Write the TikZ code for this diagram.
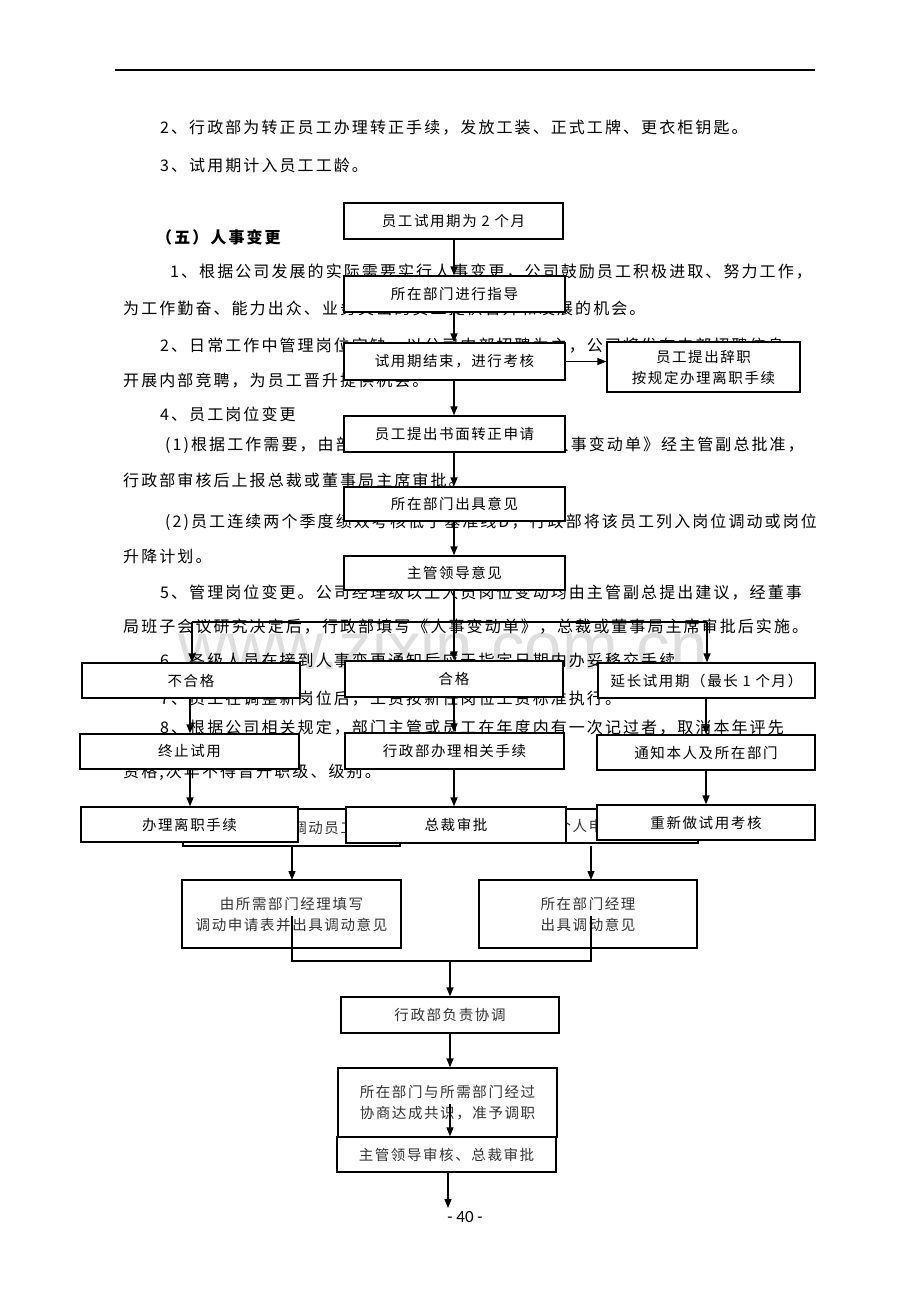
\documentclass[tikz,border=0pt]{standalone}
\usepackage{fontspec}
\usetikzlibrary{arrows.meta}
\newfontfamily\cjk[LetterSpace=13]{Noto Sans CJK SC}
\newfontfamily\cjkb[LetterSpace=11]{Noto Sans CJK SC}
\newfontfamily\wmfont{Liberation Sans}
\newfontfamily\pgfont{Carlito}
\newcommand\bodyf{\cjk\fontsize{16}{20}\selectfont}
\newcommand\boxf{\cjkb\fontsize{14.5}{21}\selectfont}
\begin{document}
\begin{tikzpicture}[x=1pt,y=-1pt,
  body/.style={anchor=west,inner sep=0pt,font=\bodyf},
  abox/.style={draw,fill=white,line width=1.3pt,inner sep=0pt,align=center,font=\boxf},
  bbox/.style={abox,text=black!80},
  arr/.style={line width=1.3pt,-{Triangle[length=9pt,width=7pt]}},
  ln/.style={line width=1.3pt}]
\useasboundingbox (0,0) rectangle (920,1302);
\fill[white] (0,0) rectangle (920,1302);
% header rule
\coordinate (r1) at (115,70);
\coordinate (r2) at (815,70);
\draw[line width=1.3pt] (r1) -- (r2);
% watermark
\node[font=\wmfont\fontsize{67}{67}\selectfont,text=black!13] (wm) at (443,646) {www.zixin.com.cn};
% body text
\node[body] (t1) at (160,128) {2、行政部为转正员工办理转正手续，发放工装、正式工牌、更衣柜钥匙。};
\node[body] (t2) at (160,165) {3、试用期计入员工工龄。};
\node[body,font=\bodyf\bfseries] (t3) at (156,237) {（五）人事变更};
\node[body] (t4) at (170,272) {1、根据公司发展的实际需要实行人事变更，公司鼓励员工积极进取、努力工作，};
\node[body] (t5) at (123,308) {为工作勤奋、能力出众、业务突出的员工提供晋升和发展的机会。};
\node[body] (t6) at (160,346) {2、日常工作中管理岗位空缺，以公司内部招聘为主，公司将发布内部招聘信息，};
\node[body] (t7) at (123,381) {开展内部竞聘，为员工晋升提供机会。};
\node[body] (t8) at (160,414) {4、员工岗位变更};
\node[body] (t9) at (165,445) {(1)根据工作需要，由部门经理提出申请，填写《人事变动单》经主管副总批准，};
\node[body] (t10) at (123,480) {行政部审核后上报总裁或董事局主席审批。};
\node[body] (t11) at (165,522) {(2)员工连续两个季度绩效考核低于基准线D，行政部将该员工列入岗位调动或岗位};
\node[body] (t12) at (123,556) {升降计划。};
\node[body] (t13) at (160,593) {5、管理岗位变更。公司经理级以上人员岗位变动均由主管副总提出建议，经董事};
\node[body] (t14) at (123,627) {局班子会议研究决定后，行政部填写《人事变动单》，总裁或董事局主席审批后实施。};
\node[body] (t15) at (160,660) {6、各级人员在接到人事变更通知后应于指定日期内办妥移交手续。};
\node[body] (t16) at (160,699) {7、员工在调整新岗位后，工资按新任岗位工资标准执行。};
\node[body] (t17) at (160,728) {8、根据公司相关规定，部门主管或员工在年度内有一次记过者，取消本年评先};
\node[body] (t18) at (123,772) {资格,次年不得晋升职级、级别。};
% ---------- flowchart B (transfer) ----------
\node[bbox,minimum width=217pt,minimum height=37pt] (e1) at (291.5,827.5) {部门申请调动员工};
\node[bbox,minimum width=220pt,minimum height=34pt] (e2) at (588,826) {员工个人申请调动};
\node[bbox,minimum width=219pt,minimum height=68pt] (e3) at (291.5,914) {由所需部门经理填写\\调动申请表并出具调动意见};
\node[bbox,minimum width=218pt,minimum height=68pt] (e4) at (588,914) {所在部门经理\\出具调动意见};
\draw[arr] (292,846) -- (292,880);
\draw[arr] (591,846) -- (591,880);
\coordinate (jl) at (292,961);
\coordinate (jr) at (591,961);
\coordinate (jm) at (450,961);
\draw[ln] (292,916) -- (jl) -- (jr) -- (591,916);
\node[bbox,minimum width=218pt,minimum height=36pt] (f1) at (450,1015) {行政部负责协调};
\node[bbox,minimum width=219pt,minimum height=69pt] (f2) at (447.5,1102.5) {所在部门与所需部门经过\\协商达成共识，准予调职};
\node[bbox,minimum width=219pt,minimum height=35pt] (f3) at (446.5,1154.5) {主管领导审核、总裁审批};
\draw[arr] (jm) -- (f1.north -| jm);
\draw[arr] (f1.south -| jm) -- (f2.north -| jm);
\draw[arr] (450,1104) -- (f3.north -| jm);
\coordinate (endp) at (448,1208);
\draw[arr] (f3.south -| endp) -- (endp);
\node[font=\pgfont\fontsize{17}{18}\selectfont,inner sep=0pt] (pg) at (465,1217) {- 40 -};
% ---------- flowchart A (trial period) ----------
\node[abox,minimum width=219pt,minimum height=36pt] (a1) at (453.5,221) {员工试用期为 2 个月};
\node[abox,minimum width=221pt,minimum height=36pt] (a2) at (454.5,294) {所在部门进行指导};
\node[abox,minimum width=221pt,minimum height=37pt] (a3) at (454.5,361.5) {试用期结束，进行考核};
\node[abox,minimum width=193pt,minimum height=50pt] (q) at (703.5,367) {员工提出辞职\\按规定办理离职手续};
\node[abox,minimum width=221pt,minimum height=36pt] (a4) at (454.5,434) {员工提出书面转正申请};
\node[abox,minimum width=221pt,minimum height=34pt] (a5) at (454.5,504) {所在部门出具意见};
\node[abox,minimum width=221pt,minimum height=34pt] (a6) at (454.5,573) {主管领导意见};
\coordinate (ax) at (454,0);
\draw[arr] (a1.south -| ax) -- (a2.north -| ax);
\draw[arr] (a2.south -| ax) -- (a3.north -| ax);
\draw[arr] (a3.south -| ax) -- (a4.north -| ax);
\draw[arr] (a4.south -| ax) -- (a5.north -| ax);
\draw[arr] (a5.south -| ax) -- (a6.north -| ax);
\draw[arr] (a3.east) -- (a3.east -| q.west);
\coordinate (hl) at (192,622);
\coordinate (hm) at (454,622);
\coordinate (hr) at (707,622);
\draw[ln] (a6.south -| ax) -- (hm);
\draw[ln] (hl) -- (hr);
% row 1
\node[abox,minimum width=218pt,minimum height=35pt] (b1) at (191,680.5) {不合格};
\node[abox,minimum width=218pt,minimum height=36pt] (b2) at (454,679) {合格};
\node[abox,minimum width=217pt,minimum height=35pt] (b3) at (706.5,680.5) {延长试用期（最长 1 个月）};
\draw[arr] (hl) -- (b1.north -| hl);
\draw[arr] (hm) -- (b2.north -| hm);
\draw[arr] (hr) -- (b3.north -| hr);
% row 2
\node[abox,minimum width=219pt,minimum height=35pt] (c1) at (189.5,751.5) {终止试用};
\node[abox,minimum width=219pt,minimum height=36pt] (c2) at (454.5,751) {行政部办理相关手续};
\node[abox,minimum width=218pt,minimum height=35pt] (c3) at (706,752.5) {通知本人及所在部门};
\coordinate (lx) at (190,0);
\coordinate (rx) at (706,0);
\draw[arr] (b1.south -| lx) -- (c1.north -| lx);
\draw[arr] (b2.south -| ax) -- (c2.north -| ax);
\draw[arr] (b3.south -| rx) -- (c3.north -| rx);
% row 3
\node[abox,minimum width=217pt,minimum height=35pt] (d1) at (189.5,824.5) {办理离职手续};
\node[abox,minimum width=220pt,minimum height=36pt] (d2) at (456,825) {总裁审批};
\node[abox,minimum width=218pt,minimum height=35pt] (d3) at (706,822.5) {重新做试用考核};
\draw[arr] (c1.south -| lx) -- (d1.north -| lx);
\draw[arr] (c2.south -| ax) -- (d2.north -| ax);
\draw[arr] (c3.south -| rx) -- (d3.north -| rx);
\end{tikzpicture}
\end{document}
